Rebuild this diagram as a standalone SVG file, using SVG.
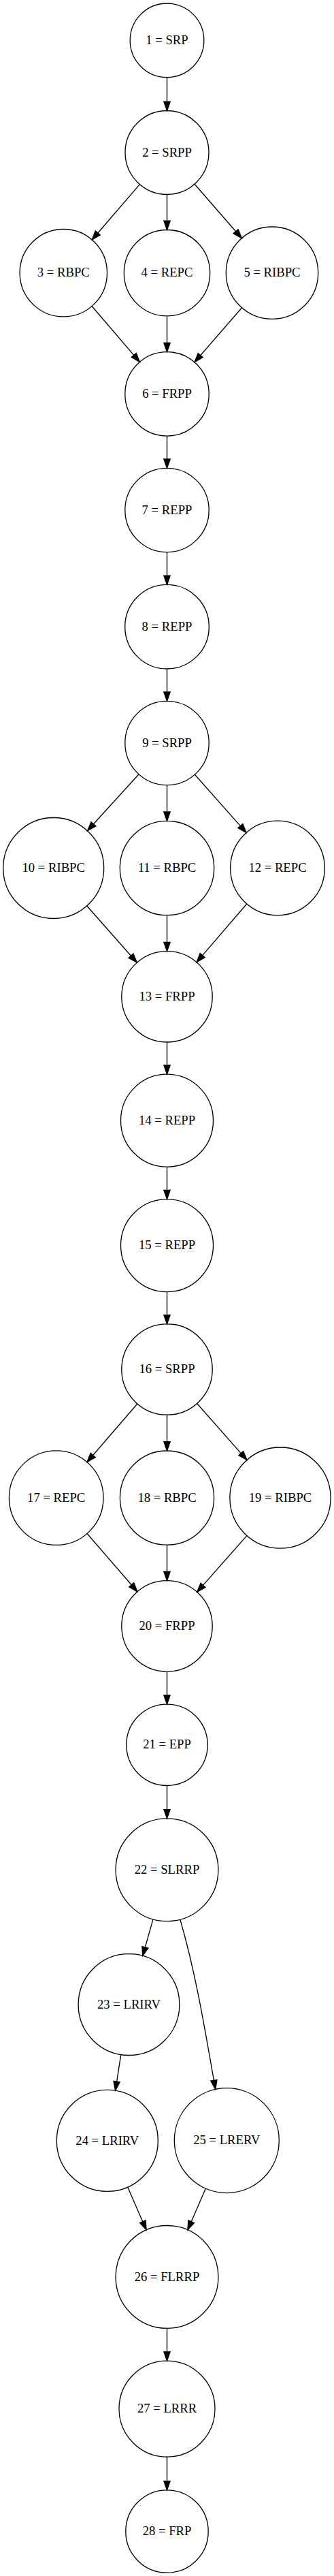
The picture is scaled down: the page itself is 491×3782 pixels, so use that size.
<svg xmlns="http://www.w3.org/2000/svg" width="491" height="3782" viewBox="0 0 491 3782">
<style>
.node circle{fill:none;stroke:#000;stroke-width:1.33}
.node text{font-family:"Liberation Serif","Times New Roman",serif;font-size:18.67px;text-anchor:middle;fill:#000}
.edges line,.edges path{stroke:#000;stroke-width:1.33;fill:none;marker-end:url(#arr)}
</style>
<defs>
<marker id="arr" markerUnits="userSpaceOnUse" viewBox="-1 -6 16 12" markerWidth="16" markerHeight="12" refX="0" refY="0" orient="auto">
<path d="M0,-4.67 L13.33,0 L0,4.67 Z" fill="#000" stroke="#000" stroke-width="1.33"/>
</marker>
</defs>
<rect width="491" height="3782" fill="#fff"/>
<g class="edges" id="edges">
<line x1="245.5" y1="113.6" x2="245.5" y2="149.2"/>
<line x1="205.4" y1="270.6" x2="143.9" y2="342"/>
<line x1="245.5" y1="285.5" x2="245.5" y2="324.2"/>
<line x1="286" y1="270.3" x2="346.6" y2="339.7"/>
<line x1="135.1" y1="449.5" x2="196.7" y2="521.4"/>
<line x1="245.5" y1="463.9" x2="245.5" y2="503.4"/>
<line x1="355.6" y1="451.8" x2="294.7" y2="521.7"/>
<line x1="245.5" y1="640.1" x2="245.5" y2="674"/>
<line x1="245.5" y1="810.7" x2="245.5" y2="845.1"/>
<line x1="245.5" y1="982" x2="245.5" y2="1016"/>
<line x1="204" y1="1136.7" x2="137.5" y2="1209.8"/>
<line x1="245.5" y1="1152.7" x2="245.5" y2="1192"/>
<line x1="286.4" y1="1137.2" x2="353.3" y2="1212.6"/>
<line x1="127.7" y1="1330" x2="192.5" y2="1403.3"/>
<line x1="245.5" y1="1343.7" x2="245.5" y2="1383.3"/>
<line x1="362.8" y1="1327" x2="297.7" y2="1402.6"/>
<line x1="245.5" y1="1530" x2="245.5" y2="1563.9"/>
<line x1="245.5" y1="1713.2" x2="245.5" y2="1747.3"/>
<line x1="245.5" y1="1896.6" x2="245.5" y2="1930.5"/>
<line x1="201.9" y1="2061" x2="136.7" y2="2136.5"/>
<line x1="245.5" y1="2077.2" x2="245.5" y2="2116.7"/>
<line x1="289.6" y1="2060.5" x2="354.2" y2="2133.6"/>
<line x1="128" y1="2251.5" x2="193.2" y2="2326.8"/>
<line x1="245.5" y1="2268.2" x2="245.5" y2="2307.4"/>
<line x1="362.9" y1="2254.6" x2="298.5" y2="2327.4"/>
<line x1="245.5" y1="2454.1" x2="245.5" y2="2488.8"/>
<line x1="245.5" y1="2621.5" x2="245.5" y2="2656.6"/>
<line x1="225" y1="2817.9" x2="213.4" y2="2858.8"/>
<path d="M265,2818.8 C287.3,2895.6 300.6,2975.5 314.4,3054.3"/>
<line x1="177.8" y1="3016.5" x2="171.6" y2="3056.1"/>
<line x1="187.7" y1="3211.1" x2="209.8" y2="3261.7"/>
<line x1="302.4" y1="3213.1" x2="281.2" y2="3261.7"/>
<line x1="245.5" y1="3418.3" x2="245.5" y2="3452.8"/>
<line x1="245.5" y1="3607.1" x2="245.5" y2="3642.5"/>
</g>
<g class="node" id="n1"><circle cx="245.5" cy="59.3" r="54.3"/><text x="245.5" y="64.9">1 = SRP</text></g>
<g class="node" id="n2"><circle cx="245.5" cy="224" r="61.5"/><text x="245.5" y="229.6">2 = SRPP</text></g>
<g class="node" id="n3"><circle cx="93.3" cy="400.7" r="64.2"/><text x="93.3" y="406.3">3 = RBPC</text></g>
<g class="node" id="n4"><circle cx="245.5" cy="400.7" r="63.2"/><text x="245.5" y="406.3">4 = REPC</text></g>
<g class="node" id="n5"><circle cx="400" cy="400.7" r="67.7"/><text x="400" y="406.3">5 = RIBPC</text></g>
<g class="node" id="n6"><circle cx="245.5" cy="578.4" r="61.7"/><text x="245.5" y="584">6 = FRPP</text></g>
<g class="node" id="n7"><circle cx="245.5" cy="749" r="61.7"/><text x="245.5" y="754.6">7 = REPP</text></g>
<g class="node" id="n8"><circle cx="245.5" cy="920.2" r="61.8"/><text x="245.5" y="925.8">8 = REPP</text></g>
<g class="node" id="n9"><circle cx="245.5" cy="1091" r="61.7"/><text x="245.5" y="1096.6">9 = SRPP</text></g>
<g class="node" id="n10"><circle cx="78.7" cy="1274.5" r="74"/><text x="78.7" y="1280.1">10 = RIBPC</text></g>
<g class="node" id="n11"><circle cx="245.5" cy="1274.5" r="69.2"/><text x="245.5" y="1280.1">11 = RBPC</text></g>
<g class="node" id="n12"><circle cx="408" cy="1274.5" r="69.3"/><text x="408" y="1280.1">12 = REPC</text></g>
<g class="node" id="n13"><circle cx="245.5" cy="1463.3" r="66.7"/><text x="245.5" y="1468.9">13 = FRPP</text></g>
<g class="node" id="n14"><circle cx="245.5" cy="1645.2" r="68"/><text x="245.5" y="1650.8">14 = REPP</text></g>
<g class="node" id="n15"><circle cx="245.5" cy="1828.6" r="68"/><text x="245.5" y="1834.2">15 = REPP</text></g>
<g class="node" id="n16"><circle cx="245.5" cy="2010.5" r="66.7"/><text x="245.5" y="2016.1">16 = SRPP</text></g>
<g class="node" id="n17"><circle cx="82.7" cy="2199.1" r="69.3"/><text x="82.7" y="2204.7">17 = REPC</text></g>
<g class="node" id="n18"><circle cx="245.5" cy="2199.1" r="69.1"/><text x="245.5" y="2204.7">18 = RBPC</text></g>
<g class="node" id="n19"><circle cx="412" cy="2199.1" r="74.1"/><text x="412" y="2204.7">19 = RIBPC</text></g>
<g class="node" id="n20"><circle cx="245.5" cy="2387.4" r="66.7"/><text x="245.5" y="2393">20 = FRPP</text></g>
<g class="node" id="n21"><circle cx="245.5" cy="2561.8" r="59.7"/><text x="245.5" y="2567.4">21 = EPP</text></g>
<g class="node" id="n22"><circle cx="245.5" cy="2745.3" r="75.4"/><text x="245.5" y="2750.9">22 = SLRRP</text></g>
<g class="node" id="n23"><circle cx="189.5" cy="2943.1" r="74.4"/><text x="189.5" y="2948.7">23 = LRIRV</text></g>
<g class="node" id="n24"><circle cx="157.8" cy="3142.9" r="74.5"/><text x="157.8" y="3148.5">24 = LRIRV</text></g>
<g class="node" id="n25"><circle cx="333.3" cy="3142.6" r="77"/><text x="333.3" y="3148.2">25 = LRERV</text></g>
<g class="node" id="n26"><circle cx="245.5" cy="3342.9" r="75.4"/><text x="245.5" y="3348.5">26 = FLRRP</text></g>
<g class="node" id="n27"><circle cx="245.5" cy="3536.6" r="70.5"/><text x="245.5" y="3542.2">27 = LRRR</text></g>
<g class="node" id="n28"><circle cx="245.5" cy="3716.5" r="60.7"/><text x="245.5" y="3722.1">28 = FRP</text></g>
</svg>
